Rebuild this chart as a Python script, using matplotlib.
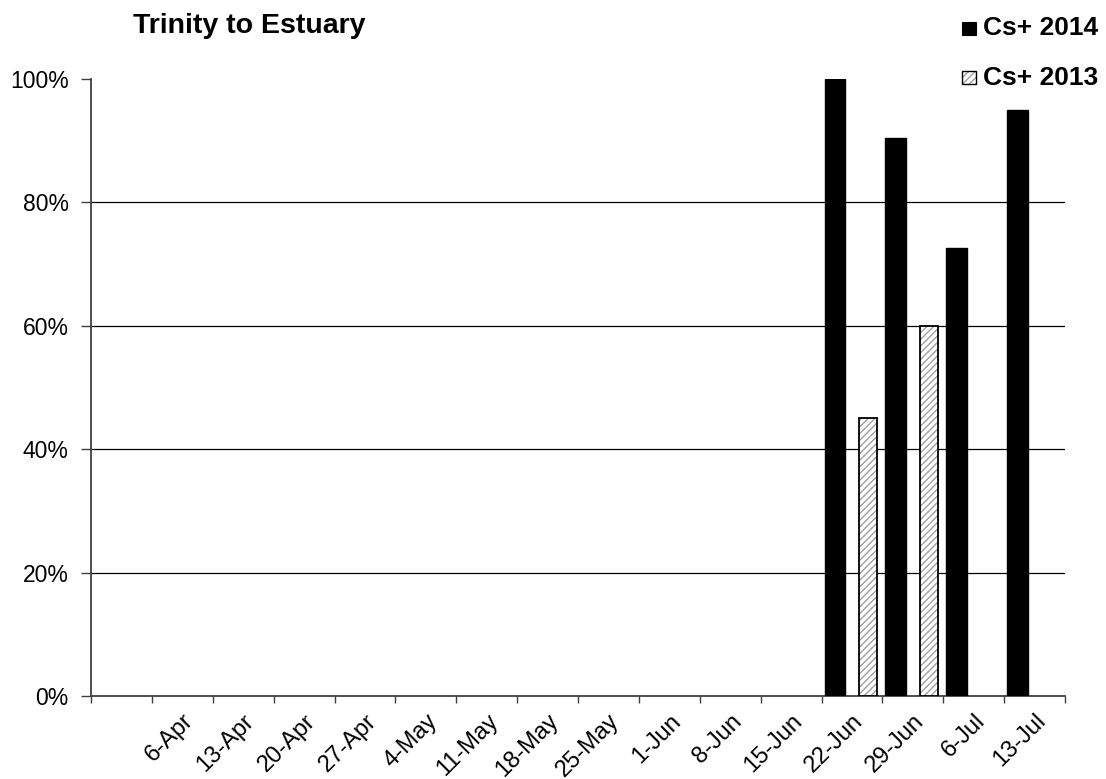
import numpy as np
import matplotlib
matplotlib.use("Agg")
import matplotlib.pyplot as plt
from matplotlib.patches import Rectangle
from matplotlib.ticker import PercentFormatter, FixedLocator

plt.rcParams['font.family'] = ['Liberation Sans', 'DejaVu Sans']

# weekly categories (the first slot has no label)
weeks = ['', '6-Apr', '13-Apr', '20-Apr', '27-Apr', '4-May', '11-May', '18-May',
         '25-May', '1-Jun', '8-Jun', '15-Jun', '22-Jun', '29-Jun', '6-Jul', '13-Jul']

# proportion detected, by week
cs2014 = [np.nan] * 12 + [1.00, 0.905, 0.727, 0.95]
cs2013 = [np.nan] * 12 + [0.45, 0.60, np.nan, np.nan]

HATCH_GREY = '#a0a0a0'

x = np.arange(len(weeks))
v14 = np.array(cs2014)
v13 = np.array(cs2013)

fig = plt.figure(figsize=(11.06, 7.79), dpi=100)
ax = fig.add_axes([0.0823, 0.1065, 0.8807, 0.792])

# 2014: solid black, left in each week
m14 = ~np.isnan(v14)
ax.bar(x[m14] - 0.28, v14[m14], width=0.34, color='black', edgecolor='black',
       linewidth=1, zorder=3)

# 2013: light hatch with a black outline, right in each week
m13 = ~np.isnan(v13)
ax.bar(x[m13] + 0.265, v13[m13], width=0.30, color='white', edgecolor=HATCH_GREY,
       hatch='/////', linewidth=0, zorder=3)
ax.bar(x[m13] + 0.265, v13[m13], width=0.30, fill=False, edgecolor='black',
       linewidth=1.3, zorder=4)

ax.set_xlim(-0.5, len(weeks) - 0.5)
ax.set_ylim(0, 1.0)

ax.yaxis.set_major_locator(FixedLocator([0, 0.2, 0.4, 0.6, 0.8, 1.0]))
ax.yaxis.set_major_formatter(PercentFormatter(1.0, decimals=0))
for yv in [0.2, 0.4, 0.6, 0.8]:
    ax.axhline(yv, color='black', lw=0.9, zorder=1)

# tick marks between weeks, labels centred on weeks
ax.set_xticks(np.arange(len(weeks) + 1) - 0.5, minor=True)
ax.set_xticks(x)
ax.set_xticklabels(weeks, rotation=45, ha='right', rotation_mode='anchor', fontsize=17)
ax.tick_params(axis='x', which='major', length=0, pad=10)
ax.tick_params(axis='x', which='minor', length=5, width=1, color='#404040', direction='out')
ax.tick_params(axis='y', length=7, width=1, color='#404040', labelsize=16.5, pad=9)

for s in ['top', 'right']:
    ax.spines[s].set_visible(False)
for s in ['left', 'bottom']:
    ax.spines[s].set_color('#404040')
    ax.spines[s].set_linewidth(1.3)

fig.text(0.120, 0.967, 'Trinity to Estuary', fontsize=20.5, fontweight='bold',
         ha='left', va='center')

# legend, drawn by hand in figure coordinates
sq_w, sq_h = 0.0127, 0.0170
fig.add_artist(Rectangle((0.8698, 0.9550), sq_w, sq_h, transform=fig.transFigure,
                         facecolor='black', edgecolor='black', lw=0.8))
fig.add_artist(Rectangle((0.8698, 0.8920), sq_w, sq_h, transform=fig.transFigure,
                         facecolor='white', edgecolor=HATCH_GREY, hatch='/////', lw=0))
fig.add_artist(Rectangle((0.8698, 0.8920), sq_w, sq_h, transform=fig.transFigure,
                         fill=False, edgecolor='black', lw=1.0))
fig.text(0.8888, 0.9640, 'Cs+ 2014', fontsize=19, fontweight='bold', va='center')
fig.text(0.8888, 0.8997, 'Cs+ 2013', fontsize=19, fontweight='bold', va='center')

fig.savefig('out.png', dpi=100, facecolor='white')
